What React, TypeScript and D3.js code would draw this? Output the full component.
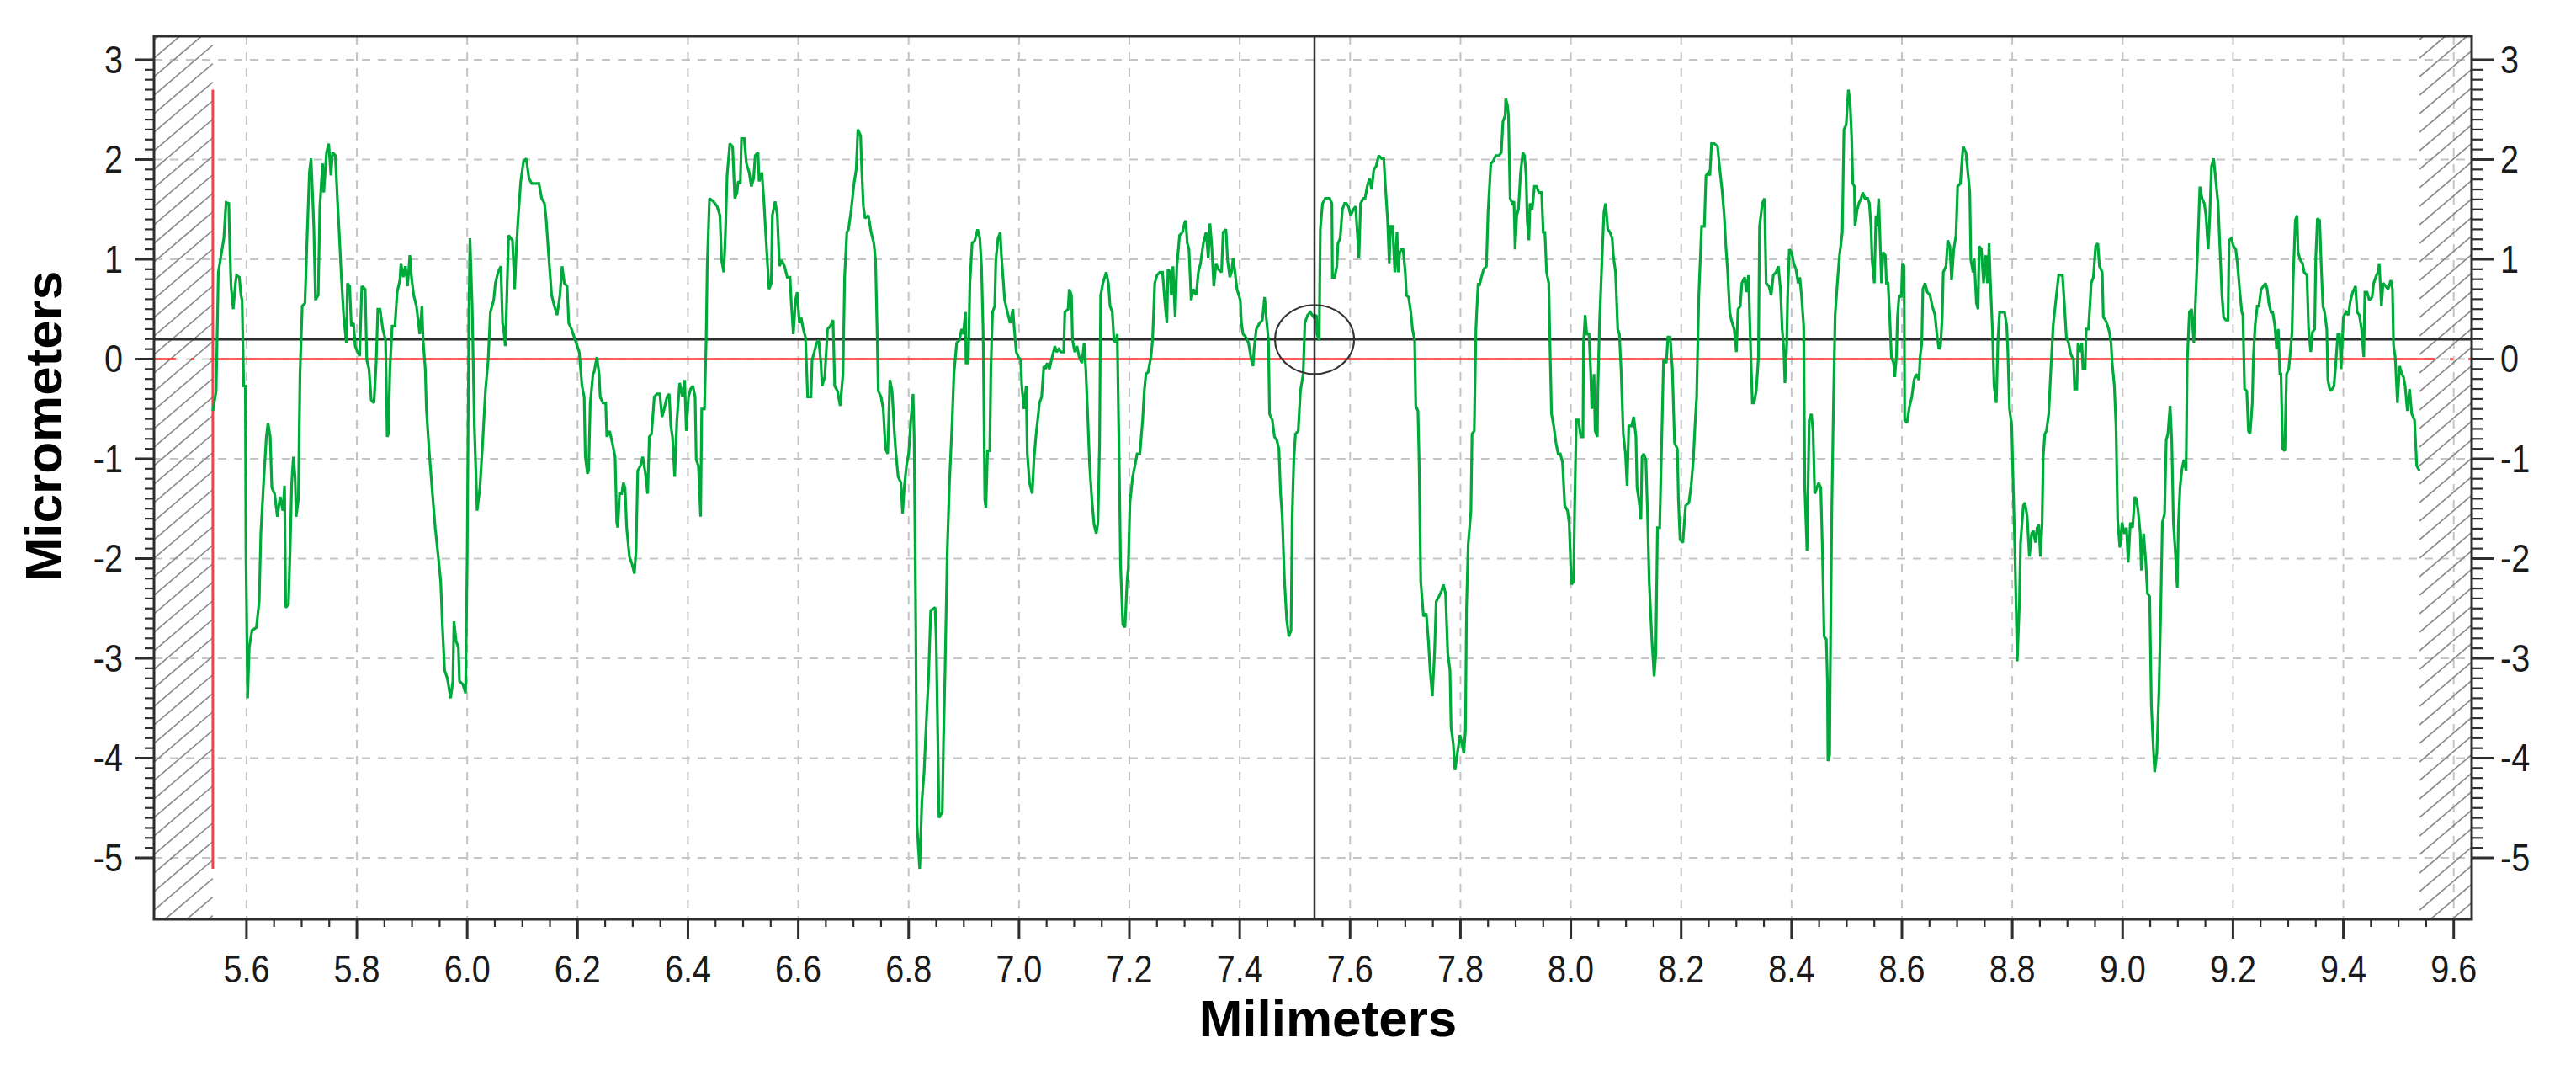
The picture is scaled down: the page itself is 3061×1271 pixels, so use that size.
import React from "react";
import * as d3 from "d3";

type Pt = [number, number];

// Axis ticks (mm / µm)
const xTickValues = [5.6, 5.8, 6.0, 6.2, 6.4, 6.6, 6.8, 7.0, 7.2, 7.4, 7.6, 7.8, 8.0, 8.2, 8.4, 8.6, 8.8, 9.0, 9.2, 9.4, 9.6];
const yTickValues = [-5, -4, -3, -2, -1, 0, 1, 2, 3];
const xDomain: [number, number] = [5.4324, 9.6325];
const yDomain: [number, number] = [-5.616, 3.236];
const cursorX = 7.5355;
const cursorY = 0.196;
const xTitle = "Milimeters";
const yTitle = "Micrometers";

// Profile: [mm, µm]
const segA: Pt[] = [
  [5.539,-0.52],[5.545,-0.32],[5.549,0.87],[5.554,1.04],[5.559,1.21],[5.563,1.57],[5.568,1.56],[5.569,1.30],[5.572,0.73],[5.576,0.50],[5.580,0.76],[5.582,0.84],[5.587,0.82],[5.590,0.64],[5.592,0.59],[5.595,-0.27],[5.598,-0.27],[5.599,-1.95],[5.602,-3.40],[5.605,-2.89],[5.610,-2.72],[5.618,-2.69],[5.623,-2.43],[5.626,-1.75],[5.631,-1.24],[5.636,-0.78],[5.639,-0.64],[5.643,-0.78],[5.646,-1.29],[5.651,-1.35],[5.656,-1.58],[5.661,-1.38],[5.666,-1.52],[5.669,-1.27],[5.671,-2.49],[5.676,-2.46],[5.679,-1.92],[5.682,-1.24],[5.685,-0.98],[5.688,-1.18],[5.690,-1.58],[5.694,-1.41],[5.697,-0.15],[5.701,0.53],[5.706,0.56],[5.710,1.24],[5.714,1.87],[5.717,2.01],[5.720,1.61],[5.722,1.33],[5.725,0.59],[5.730,0.64],[5.733,1.53],[5.738,1.96],[5.740,1.67],[5.745,2.07],[5.749,2.16],[5.753,1.84],[5.756,2.07],[5.761,2.04],[5.765,1.58],[5.768,1.27],[5.772,0.82],[5.776,0.44],[5.781,0.16],[5.783,0.76],[5.787,0.73],[5.790,0.33],[5.794,0.36],[5.797,0.13],[5.801,0.07],[5.805,0.03],[5.809,0.73],[5.815,0.70],[5.818,-0.01],[5.822,-0.10],[5.826,-0.41],[5.831,-0.44],[5.835,-0.04],[5.838,0.50],[5.842,0.50],[5.847,0.30],[5.852,0.19],[5.855,-0.78],[5.857,-0.75],[5.860,-0.10],[5.864,0.33],[5.869,0.33],[5.873,0.67],[5.878,0.79],[5.880,0.96],[5.884,0.82],[5.888,0.93],[5.892,0.73],[5.896,1.04],[5.899,0.82],[5.903,0.64],[5.908,0.53],[5.914,0.25],[5.918,0.53],[5.920,0.19],[5.924,-0.10],[5.926,-0.50],[5.931,-0.92],[5.937,-1.35],[5.942,-1.69],[5.947,-1.95],[5.952,-2.23],[5.955,-2.66],[5.959,-3.12],[5.964,-3.20],[5.970,-3.40],[5.974,-3.23],[5.976,-2.63],[5.980,-2.83],[5.984,-2.89],[5.986,-3.23],[5.992,-3.26],[5.997,-3.35],[6.000,-1.95],[6.003,0.42],[6.005,1.21],[6.009,0.53],[6.013,-0.67],[6.018,-1.52],[6.023,-1.29],[6.028,-0.84],[6.033,-0.32],[6.038,-0.01],[6.042,0.47],[6.048,0.59],[6.051,0.76],[6.056,0.87],[6.061,0.93],[6.064,0.36],[6.066,0.30],[6.069,0.13],[6.071,0.47],[6.075,1.24],[6.082,1.19],[6.086,0.70],[6.089,1.10],[6.092,1.39],[6.097,1.78],[6.102,1.98],[6.107,2.01],[6.112,1.81],[6.117,1.76],[6.122,1.76],[6.130,1.76],[6.135,1.61],[6.140,1.56],[6.143,1.41],[6.148,1.01],[6.153,0.64],[6.158,0.53],[6.163,0.44],[6.168,0.64],[6.172,0.93],[6.176,0.76],[6.181,0.73],[6.184,0.36],[6.189,0.30]
];

const segB: Pt[] = [
  [6.203,0.07],[6.208,-0.27],[6.212,-0.38],[6.214,-0.98],[6.218,-1.15],[6.220,-1.12],[6.223,-0.44],[6.228,-0.15],[6.230,-0.13],[6.235,0.02],[6.239,-0.15],[6.241,-0.38],[6.246,-0.44],[6.251,-0.44],[6.253,-0.78],[6.258,-0.72],[6.263,-0.84],[6.268,-0.98],[6.271,-1.64],[6.273,-1.69],[6.276,-1.35],[6.280,-1.35],[6.283,-1.24],[6.286,-1.29],[6.289,-1.69],[6.294,-1.98],[6.299,-2.06],[6.303,-2.15],[6.306,-1.92],[6.309,-1.12],[6.314,-1.07],[6.318,-0.98],[6.323,-1.15],[6.327,-1.35],[6.330,-0.78],[6.334,-0.75],[6.339,-0.38],[6.344,-0.35],[6.349,-0.35],[6.353,-0.58],[6.357,-0.50],[6.362,-0.38],[6.366,-0.35],[6.369,-0.67],[6.372,-0.78],[6.376,-1.18],[6.380,-0.61],[6.385,-0.24],[6.390,-0.38],[6.394,-0.21],[6.397,-0.72],[6.401,-0.38],[6.405,-0.30],[6.409,-0.27],[6.413,-0.38],[6.415,-1.01],[6.419,-1.07],[6.423,-1.58],[6.425,-0.50],[6.430,-0.50],[6.433,0.19],[6.435,0.93],[6.439,1.61],[6.446,1.58],[6.453,1.53],[6.458,1.44],[6.461,0.99],[6.465,0.87],[6.468,1.27],[6.471,1.84],[6.476,2.16],[6.481,2.13],[6.485,1.61],[6.489,1.67],[6.491,1.78],[6.495,1.76],[6.497,2.21],[6.502,2.21],[6.506,1.96],[6.511,1.87],[6.515,1.73],[6.519,1.81],[6.522,2.04],[6.527,2.07],[6.529,1.78],[6.534,1.87],[6.538,1.56],[6.542,1.16],[6.547,0.70],[6.551,0.76],[6.553,1.44],[6.558,1.58],[6.562,1.44],[6.566,0.93],[6.570,0.99],[6.575,0.93],[6.580,0.82],[6.585,0.82],[6.587,0.59],[6.591,0.25],[6.595,0.59],[6.598,0.67],[6.602,0.36],[6.605,0.42],[6.609,0.30],[6.613,0.22],[6.617,-0.38],[6.623,-0.38],[6.625,-0.01],[6.629,0.07],[6.633,0.16],[6.637,0.19],[6.641,-0.04],[6.643,-0.27],[6.648,-0.18],[6.653,0.30],[6.658,0.33],[6.663,0.39],[6.666,-0.27],[6.671,-0.32],[6.676,-0.47],[6.681,-0.15],[6.684,0.82],[6.688,1.27],[6.691,1.30],[6.696,1.50],[6.701,1.76],[6.705,1.90],[6.708,2.30],[6.713,2.24],[6.715,1.90],[6.718,1.53],[6.721,1.41],[6.727,1.44],[6.732,1.27],[6.737,1.16],[6.740,0.99],[6.743,0.25],[6.745,-0.32],[6.750,-0.38],[6.754,-0.50],[6.758,-0.90],[6.762,-0.95],[6.766,-0.21],[6.770,-0.32],[6.774,-0.72],[6.777,-0.95],[6.781,-1.18],[6.786,-1.24],[6.789,-1.55],[6.792,-1.29],[6.796,-1.07],[6.800,-0.95],[6.804,-0.61],[6.808,-0.35],[6.810,-0.78],[6.813,-2.72],[6.815,-4.66],[6.820,-5.11],[6.824,-4.43],[6.828,-4.14],[6.833,-3.52],[6.836,-3.20],[6.840,-2.52],[6.848,-2.49],[6.850,-2.83],[6.853,-3.86],[6.855,-4.60],[6.861,-4.54]
];

const segC: Pt[] = [
  [6.863,-3.86],[6.866,-3.12],[6.870,-1.92],[6.874,-1.24],[6.879,-0.61],[6.882,-0.15],[6.887,0.16],[6.892,0.19],[6.896,0.30],[6.899,0.25],[6.903,0.47],[6.904,-0.04],[6.908,-0.04],[6.911,0.76],[6.915,1.16],[6.920,1.19],[6.925,1.30],[6.929,1.21],[6.932,0.93],[6.935,0.27],[6.938,-1.41],[6.940,-1.49],[6.943,-0.92],[6.947,-0.92],[6.949,-0.10],[6.952,0.47],[6.956,0.53],[6.958,0.99],[6.962,1.21],[6.966,1.27],[6.968,1.04],[6.971,0.82],[6.974,0.59],[6.979,0.47],[6.984,0.36],[6.989,0.50],[6.991,0.33],[6.995,0.07],[6.999,0.02],[7.003,-0.01],[7.005,-0.27],[7.009,-0.50],[7.013,-0.27],[7.015,-0.95],[7.019,-1.24],[7.024,-1.35],[7.027,-1.01],[7.031,-0.75],[7.035,-0.55],[7.037,-0.44],[7.041,-0.38],[7.045,-0.07],[7.048,-0.10],[7.051,-0.04],[7.055,-0.10],[7.060,0.02],[7.065,0.13],[7.068,0.07],[7.072,0.10],[7.076,0.07],[7.081,0.07],[7.083,0.47],[7.089,0.50],[7.091,0.70],[7.095,0.64],[7.097,0.19],[7.101,0.07],[7.105,0.13],[7.109,0.02],[7.114,-0.04],[7.118,0.16],[7.121,-0.10],[7.124,-0.50],[7.128,-1.07],[7.132,-1.41],[7.136,-1.66],[7.140,-1.75],[7.143,-1.64],[7.146,-0.84],[7.148,0.64],[7.152,0.76],[7.158,0.87],[7.162,0.76],[7.165,0.53],[7.169,0.47],[7.172,0.19],[7.175,0.16],[7.178,0.25],[7.181,-0.81],[7.184,-2.06],[7.188,-2.66],[7.192,-2.69],[7.196,-2.21],[7.198,-2.09],[7.201,-1.44],[7.206,-1.18],[7.210,-1.07],[7.214,-0.95],[7.219,-0.95],[7.224,-0.61],[7.227,-0.32],[7.230,-0.15],[7.234,-0.13],[7.239,0.02],[7.242,0.19],[7.246,0.76],[7.250,0.84],[7.255,0.87],[7.260,0.87],[7.265,0.53],[7.268,0.36],[7.270,0.90],[7.274,0.87],[7.276,0.64],[7.279,0.93],[7.283,0.42],[7.286,0.93],[7.291,1.24],[7.296,1.27],[7.300,1.36],[7.302,1.39],[7.305,1.16],[7.308,1.10],[7.312,0.59],[7.316,0.70],[7.321,0.64],[7.325,0.87],[7.329,0.96],[7.334,1.16],[7.339,1.27],[7.343,1.01],[7.346,1.36],[7.349,1.16],[7.353,0.73],[7.357,0.96],[7.361,0.90],[7.367,0.87],[7.370,1.27],[7.375,1.30],[7.378,0.99],[7.382,0.82],[7.385,0.87],[7.388,1.01],[7.390,0.93],[7.395,0.70],[7.401,0.59],[7.403,0.36],[7.406,0.25],[7.411,0.22],[7.416,0.16],[7.421,-0.01],[7.424,-0.07],[7.426,0.10],[7.430,0.30],[7.436,0.36],[7.441,0.39],[7.445,0.62],[7.448,0.42],[7.452,0.19],[7.454,-0.55],[7.459,-0.61],[7.463,-0.78],[7.467,-0.81],[7.471,-0.90],[7.474,-1.35],[7.477,-1.58],[7.481,-2.21],[7.485,-2.61],[7.489,-2.78],[7.493,-2.72],[7.495,-1.58],[7.498,-1.01],[7.501,-0.75],[7.506,-0.72],[7.510,-0.32],[7.515,-0.15],[7.518,0.36],[7.523,0.44],[7.528,0.47],[7.534,0.42],[7.539,0.44]
];

const segD: Pt[] = [
  [7.540,0.25],[7.544,0.19],[7.546,1.30],[7.550,1.56],[7.555,1.61],[7.563,1.61],[7.567,1.56],[7.568,0.82],[7.572,0.82],[7.576,0.93],[7.578,1.16],[7.582,1.21],[7.586,1.50],[7.590,1.56],[7.593,1.56],[7.597,1.53],[7.601,1.44],[7.606,1.50],[7.610,1.53],[7.613,1.27],[7.616,1.01],[7.619,1.56],[7.624,1.61],[7.627,1.61],[7.631,1.73],[7.635,1.81],[7.639,1.70],[7.643,1.90],[7.647,1.93],[7.652,2.04],[7.657,2.01],[7.661,2.01],[7.664,1.73],[7.668,1.39],[7.671,0.96],[7.673,1.33],[7.677,1.33],[7.681,0.87],[7.685,1.27],[7.687,0.87],[7.690,1.07],[7.693,1.10],[7.696,1.10],[7.700,0.87],[7.702,0.64],[7.706,0.62],[7.710,0.47],[7.713,0.30],[7.717,0.19],[7.719,-0.47],[7.723,-0.52],[7.725,-1.01],[7.728,-2.23],[7.733,-2.58],[7.738,-2.55],[7.742,-2.83],[7.745,-3.12],[7.749,-3.38],[7.753,-2.95],[7.756,-2.43],[7.761,-2.38],[7.766,-2.32],[7.769,-2.26],[7.773,-2.35],[7.777,-2.95],[7.781,-3.12],[7.783,-3.69],[7.787,-3.86],[7.790,-4.12],[7.794,-3.97],[7.799,-3.77],[7.803,-3.86],[7.806,-3.95],[7.809,-3.72],[7.811,-2.49],[7.814,-1.86],[7.819,-1.52],[7.821,-0.75],[7.825,-0.72],[7.828,0.30],[7.832,0.76],[7.834,0.73],[7.838,0.82],[7.842,0.90],[7.847,0.93],[7.850,1.47],[7.855,1.96],[7.859,1.98],[7.864,2.04],[7.870,2.04],[7.874,2.07],[7.877,2.38],[7.881,2.44],[7.882,2.61],[7.885,2.55],[7.887,2.44],[7.890,1.61],[7.894,1.56],[7.897,1.58],[7.899,1.10],[7.902,1.44],[7.905,1.50],[7.909,1.87],[7.913,2.07],[7.916,2.04],[7.919,1.84],[7.921,1.39],[7.924,1.19],[7.926,1.56],[7.930,1.50],[7.934,1.73],[7.938,1.73],[7.942,1.67],[7.947,1.67],[7.950,1.27],[7.953,1.27],[7.956,0.87],[7.960,0.76],[7.962,0.19],[7.965,-0.55],[7.969,-0.67],[7.973,-0.84],[7.977,-0.95],[7.981,-0.95],[7.985,-1.04],[7.989,-1.47],[7.994,-1.52],[7.997,-1.64],[8.001,-2.26],[8.005,-2.23],[8.007,-1.47],[8.010,-0.61],[8.014,-0.61],[8.018,-0.78],[8.022,-0.78],[8.023,0.16],[8.026,0.44],[8.029,0.25],[8.033,0.25],[8.036,-0.13],[8.038,-0.50],[8.042,-0.15],[8.044,-0.72],[8.048,-0.78],[8.049,-0.32],[8.052,0.36],[8.056,0.93],[8.060,1.47],[8.063,1.56],[8.067,1.30],[8.071,1.27],[8.075,1.21],[8.077,1.04],[8.081,0.87],[8.085,0.30],[8.088,0.25],[8.091,-0.10],[8.095,-0.75],[8.099,-0.95],[8.102,-1.27],[8.105,-0.67],[8.110,-0.67],[8.114,-0.58],[8.118,-0.78],[8.120,-1.29],[8.124,-1.44],[8.127,-1.61],[8.129,-0.98],[8.132,-0.95],[8.136,-1.01],[8.139,-1.55],[8.142,-2.23],[8.147,-2.83],[8.151,-3.18],[8.154,-2.95],[8.157,-1.69],[8.161,-1.69],[8.164,-0.98],[8.168,-0.01],[8.173,-0.04],[8.176,0.22],[8.180,0.22],[8.184,-0.10],[8.188,-0.84],[8.193,-0.90],[8.195,-1.41],[8.198,-1.81],[8.203,-1.84]
];

const segE: Pt[] = [
  [8.208,-1.47],[8.214,-1.44],[8.218,-1.27],[8.222,-1.01],[8.225,-0.67],[8.228,-0.38],[8.232,0.64],[8.237,1.33],[8.242,1.33],[8.245,1.84],[8.249,1.87],[8.252,1.84],[8.255,2.16],[8.260,2.16],[8.266,2.13],[8.270,1.90],[8.274,1.70],[8.278,1.44],[8.281,1.13],[8.284,0.90],[8.288,0.47],[8.291,0.39],[8.296,0.30],[8.300,0.07],[8.303,0.50],[8.307,0.53],[8.310,0.76],[8.315,0.82],[8.318,0.67],[8.322,0.84],[8.325,0.25],[8.329,-0.44],[8.332,-0.44],[8.336,-0.32],[8.340,0.02],[8.342,1.33],[8.347,1.56],[8.351,1.61],[8.354,0.76],[8.359,0.73],[8.363,0.64],[8.367,0.84],[8.372,0.87],[8.376,0.93],[8.380,0.70],[8.383,0.30],[8.386,0.10],[8.388,-0.24],[8.391,0.10],[8.393,0.64],[8.396,1.10],[8.400,1.07],[8.404,0.96],[8.408,0.90],[8.412,0.76],[8.415,0.82],[8.418,0.64],[8.422,0.33],[8.424,-1.29],[8.428,-1.92],[8.432,-0.61],[8.436,-0.55],[8.439,-0.72],[8.442,-1.35],[8.446,-1.29],[8.449,-1.24],[8.453,-1.29],[8.456,-1.92],[8.459,-2.78],[8.463,-2.81],[8.465,-3.23],[8.466,-4.03],[8.469,-3.97],[8.470,-3.23],[8.473,-1.49],[8.476,-0.44],[8.479,0.44],[8.483,0.76],[8.487,1.04],[8.492,1.27],[8.495,2.30],[8.499,2.35],[8.503,2.70],[8.506,2.58],[8.509,2.21],[8.511,1.76],[8.514,1.73],[8.515,1.33],[8.519,1.50],[8.522,1.56],[8.526,1.61],[8.529,1.67],[8.533,1.61],[8.538,1.61],[8.541,1.56],[8.544,1.33],[8.546,0.99],[8.550,0.76],[8.553,1.44],[8.555,1.33],[8.558,1.61],[8.561,1.10],[8.563,0.76],[8.566,1.07],[8.570,1.04],[8.572,0.76],[8.575,0.76],[8.578,0.42],[8.581,0.02],[8.585,-0.04],[8.587,-0.18],[8.590,0.02],[8.592,0.42],[8.595,0.64],[8.599,0.62],[8.601,0.96],[8.604,0.93],[8.605,-0.61],[8.609,-0.64],[8.614,-0.47],[8.618,-0.38],[8.622,-0.21],[8.626,-0.15],[8.631,-0.21],[8.633,0.02],[8.636,0.16],[8.638,0.70],[8.642,0.76],[8.646,0.67],[8.651,0.64],[8.655,0.53],[8.660,0.44],[8.663,0.27],[8.667,0.10],[8.670,0.13],[8.673,0.42],[8.675,0.87],[8.680,0.93],[8.683,1.19],[8.687,1.13],[8.690,0.79],[8.694,1.10],[8.698,1.24],[8.701,1.73],[8.706,1.76],[8.708,1.93],[8.711,2.13],[8.716,2.07],[8.719,1.90],[8.723,1.67],[8.725,0.99],[8.729,0.87],[8.731,1.01],[8.735,0.56],[8.738,0.50],[8.740,1.13],[8.744,1.10],[8.748,0.76],[8.752,1.04],[8.755,0.76],[8.758,1.16],[8.760,0.82],[8.764,0.30],[8.767,-0.27],[8.771,-0.44],[8.774,0.19],[8.777,0.47],[8.782,0.47],[8.786,0.47],[8.790,0.33],[8.792,0.07],[8.795,-0.50],[8.799,-0.67],[8.801,-1.12],[8.805,-1.98],[8.809,-3.03],[8.813,-2.43],[8.815,-1.84],[8.820,-1.47],[8.823,-1.44],[8.827,-1.58],[8.831,-1.98],[8.835,-1.75],[8.838,-1.72],[8.842,-1.84],[8.845,-1.69],[8.848,-1.66],[8.851,-1.98],[8.854,-1.66],[8.856,-0.98],[8.859,-0.75],[8.862,-0.72],[8.866,-0.55],[8.870,-0.10],[8.874,0.33],[8.879,0.59]
];

const segF: Pt[] = [
  [8.884,0.84],[8.891,0.84],[8.894,0.59],[8.898,0.22],[8.902,0.16],[8.906,0.05],[8.911,-0.01],[8.913,-0.30],[8.917,-0.30],[8.919,0.16],[8.923,0.07],[8.926,0.16],[8.928,-0.10],[8.932,-0.10],[8.934,0.30],[8.938,0.30],[8.941,0.56],[8.943,0.76],[8.947,0.82],[8.951,1.13],[8.955,1.16],[8.958,0.93],[8.963,0.87],[8.965,0.42],[8.969,0.39],[8.973,0.33],[8.976,0.27],[8.979,0.16],[8.981,-0.04],[8.985,-0.27],[8.988,-0.67],[8.991,-1.61],[8.995,-1.89],[8.999,-1.64],[9.003,-1.75],[9.007,-1.69],[9.010,-2.04],[9.014,-1.64],[9.018,-1.69],[9.022,-1.38],[9.025,-1.41],[9.028,-1.52],[9.032,-1.75],[9.034,-2.12],[9.038,-1.75],[9.042,-2.04],[9.045,-2.35],[9.049,-2.38],[9.052,-3.46],[9.055,-3.83],[9.058,-4.14],[9.062,-3.95],[9.066,-3.29],[9.069,-2.52],[9.072,-1.64],[9.076,-1.55],[9.079,-0.81],[9.082,-0.75],[9.086,-0.47],[9.089,-0.81],[9.092,-1.64],[9.096,-1.98],[9.099,-2.29],[9.101,-1.66],[9.104,-1.29],[9.107,-1.12],[9.111,-1.01],[9.115,-1.12],[9.117,-0.04],[9.121,0.47],[9.125,0.50],[9.129,0.16],[9.133,0.70],[9.136,1.10],[9.140,1.73],[9.144,1.61],[9.148,1.56],[9.151,1.44],[9.155,1.10],[9.158,1.44],[9.161,1.93],[9.165,2.01],[9.169,1.78],[9.173,1.56],[9.176,1.16],[9.180,0.64],[9.183,0.42],[9.187,0.39],[9.191,0.39],[9.193,1.19],[9.197,1.21],[9.201,1.13],[9.205,1.10],[9.208,0.96],[9.212,0.70],[9.216,0.47],[9.218,0.44],[9.221,-0.30],[9.225,-0.32],[9.228,-0.72],[9.231,-0.75],[9.235,-0.44],[9.237,0.02],[9.240,0.33],[9.244,0.53],[9.247,0.53],[9.251,0.70],[9.255,0.73],[9.259,0.76],[9.262,0.70],[9.265,0.56],[9.269,0.47],[9.272,0.47],[9.276,0.33],[9.279,0.10],[9.282,0.30],[9.285,-0.15],[9.287,-0.15],[9.290,-0.90],[9.294,-0.92],[9.297,-0.15],[9.301,-0.10],[9.304,0.07],[9.307,0.27],[9.309,0.79],[9.313,1.39],[9.316,1.44],[9.318,1.07],[9.322,0.99],[9.326,0.96],[9.329,0.87],[9.334,0.84],[9.337,0.30],[9.341,0.07],[9.344,0.27],[9.348,0.30],[9.350,1.01],[9.353,1.41],[9.357,1.39],[9.360,0.93],[9.363,0.53],[9.366,0.47],[9.370,0.30],[9.372,-0.21],[9.376,-0.32],[9.380,-0.30],[9.383,-0.27],[9.386,-0.07],[9.390,0.25],[9.393,0.25],[9.396,-0.10],[9.400,0.42],[9.405,0.47],[9.409,0.44],[9.413,0.59],[9.417,0.67],[9.422,0.73],[9.425,0.47],[9.429,0.44],[9.433,0.30],[9.437,0.02],[9.439,0.67],[9.443,0.67],[9.447,0.59],[9.452,0.62],[9.455,0.76],[9.460,0.84],[9.463,0.87],[9.465,0.96],[9.469,0.53],[9.472,0.76],[9.477,0.73],[9.481,0.70],[9.486,0.79],[9.489,0.70],[9.491,0.13],[9.494,0.02],[9.498,-0.44],[9.502,-0.07],[9.506,-0.15],[9.509,-0.18],[9.512,-0.27],[9.516,-0.52],[9.520,-0.30],[9.524,-0.55],[9.529,-0.61],[9.533,-1.07],[9.538,-1.12]
];

const FONT = "'Liberation Sans', Arial, Helvetica, sans-serif";

export default function App() {
  const W = 3061, H = 1271;
  const L = 183, R = 2937, T = 43, B = 1092;
  const x = d3.scaleLinear().domain(xDomain).range([L, R]);
  const y = d3.scaleLinear().domain(yDomain).range([B, T]);

  const profile: Pt[] = [...segA, ...segB, ...segC, ...segD, ...segE, ...segF];
  const line = d3.line<Pt>().x(d => x(d[0])).y(d => y(d[1]));
  const ext = d3.extent(profile, d => d[1]) as [number, number];
  const xs = x(profile[0][0]);
  const xe = x(profile[profile.length - 1][0]);

  const xMinor: number[] = [];
  for (let i = 0; i < xTickValues.length - 1; i++) {
    for (let k = 1; k < 4; k++) xMinor.push(xTickValues[i] + (k * 0.05));
  }
  const yMinor: number[] = [];
  for (let i = 0; i < yTickValues.length - 1; i++) {
    for (let k = 1; k < 10; k++) yMinor.push(yTickValues[i] + k * 0.1);
  }

  const hatch = (xa: number, xb: number, key: string) => {
    const lines = [];
    const w = xb - xa;
    const slope = 0.85;
    for (let yy = T - 40; yy < B + w + 40; yy += 22) {
      lines.push(
        <line key={key + yy} x1={xa} y1={yy} x2={xb} y2={yy - w * slope} stroke="#8a8a8a" strokeWidth={1.7} />
      );
    }
    return (
      <g clipPath={`url(#clip-${key})`}>
        <clipPath id={`clip-${key}`}>
          <rect x={xa} y={T} width={w} height={B - T} />
        </clipPath>
        {lines}
      </g>
    );
  };

  const gridColor = "#c4c4c4";
  const axisColor = "#2e2e2e";
  const lblScale = "scale(0.86,1)";

  return (
    <svg width={W} height={H} viewBox={`0 0 ${W} ${H}`}
      style={{ position: "absolute", left: 0, top: 0, display: "block", background: "#fff" }}>
      <rect x={0} y={0} width={W} height={H} fill="#fff" />
      <defs>
        <clipPath id="plotclip"><rect x={L} y={T} width={R - L} height={B - T} /></clipPath>
      </defs>

      {/* grid */}
      <g stroke={gridColor} strokeWidth={2} strokeDasharray="10,9">
        {xTickValues.map(v => <line key={"gx" + v} x1={x(v)} x2={x(v)} y1={T} y2={B} />)}
        {yTickValues.map(v => <line key={"gy" + v} x1={L} x2={R} y1={y(v)} y2={y(v)} />)}
      </g>

      {/* hatched areas outside the measured range */}
      {hatch(L, xs, "left")}
      {hatch(xe, R, "right")}

      <g clipPath="url(#plotclip)">
        {/* reference line */}
        <line x1={L} x2={R} y1={y(cursorY)} y2={y(cursorY)} stroke={axisColor} strokeWidth={2.5} />
        {/* zero line */}
        <line x1={xs} x2={xe} y1={y(0)} y2={y(0)} stroke="#ff2a2a" strokeWidth={2.5} />
        <line x1={L} x2={xs} y1={y(0)} y2={y(0)} stroke="#ff2a2a" strokeWidth={2.5} strokeDasharray="26,18,4,18" />
        <line x1={xe} x2={R} y1={y(0)} y2={y(0)} stroke="#ff2a2a" strokeWidth={2.5} strokeDasharray="18,18,4,18" />
        <line x1={xs} x2={xs} y1={y(ext[1])} y2={y(ext[0])} stroke="#ff4040" strokeWidth={3} />
        {/* profile */}
        <path d={line(profile) || ""} fill="none" stroke="#00aa3a" strokeWidth={3.2} strokeLinejoin="miter" strokeMiterlimit={2} />
        {/* cursor */}
        <line x1={x(cursorX)} x2={x(cursorX)} y1={T} y2={B} stroke={axisColor} strokeWidth={2.5} />
        <ellipse cx={x(cursorX)} cy={y(cursorY)} rx={47} ry={41} fill="none" stroke="#333" strokeWidth={2.2} />
      </g>

      {/* frame */}
      <rect x={L} y={T} width={R - L} height={B - T} fill="none" stroke={axisColor} strokeWidth={3} />

      {/* axis ticks */}
      <g stroke={axisColor}>
        {yTickValues.map(v => <line key={"ly" + v} x1={L - 22} x2={L} y1={y(v)} y2={y(v)} strokeWidth={3} />)}
        {yMinor.map(v => <line key={"lym" + v} x1={L - 11} x2={L} y1={y(v)} y2={y(v)} strokeWidth={2.2} />)}
        {yTickValues.map(v => <line key={"ry" + v} x1={R} x2={R + 26} y1={y(v)} y2={y(v)} strokeWidth={3} />)}
        {yMinor.map(v => <line key={"rym" + v} x1={R} x2={R + 13} y1={y(v)} y2={y(v)} strokeWidth={2.2} />)}
        {xTickValues.map(v => <line key={"bx" + v} x1={x(v)} x2={x(v)} y1={B} y2={B + 23} strokeWidth={3} />)}
        {xMinor.map(v => <line key={"bxm" + v} x1={x(v)} x2={x(v)} y1={B} y2={B + 9} strokeWidth={2.2} />)}
      </g>

      {/* tick labels */}
      <g fontFamily={FONT} fontSize={46} fill="#1a1a1a">
        {yTickValues.map(v => (
          <text key={"lyl" + v} transform={`translate(${L - 37},${y(v) + 16}) ${lblScale}`} textAnchor="end">{String(v)}</text>
        ))}
        {yTickValues.map(v => (
          <text key={"ryl" + v} transform={`translate(${R + 34},${y(v) + 16}) ${lblScale}`} textAnchor="start">{String(v)}</text>
        ))}
        {xTickValues.map(v => (
          <text key={"bxl" + v} transform={`translate(${x(v)},${B + 75}) ${lblScale}`} textAnchor="middle">{d3.format(".1f")(v)}</text>
        ))}
      </g>

      {/* axis titles */}
      <text x={(L + R) / 2 + 18} y={1231} textAnchor="middle" fontFamily={FONT} fontWeight="bold" fontSize={62} fill="#000">{xTitle}</text>
      <text transform={`translate(73,506) rotate(-90)`} textAnchor="middle" fontFamily={FONT} fontWeight="bold" fontSize={62} fill="#000">{yTitle}</text>
    </svg>
  );
}
